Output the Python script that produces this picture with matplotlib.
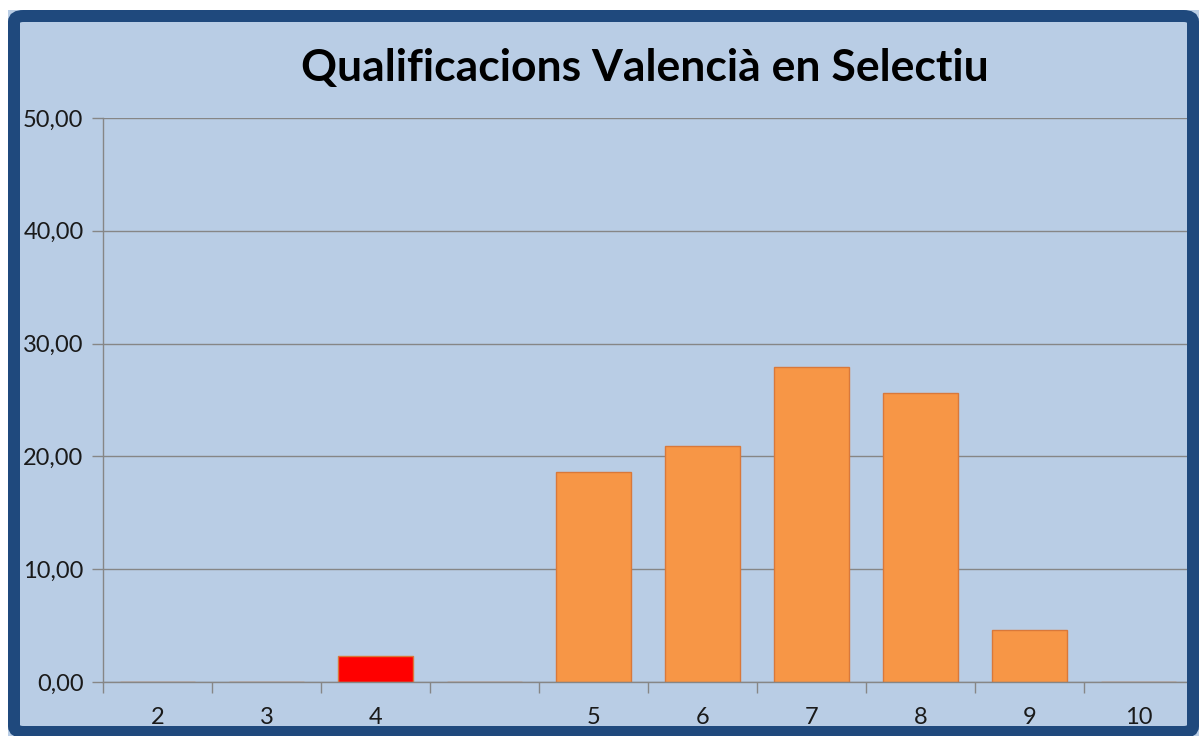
import matplotlib.pyplot as plt
import numpy as np
from matplotlib.patches import FancyBboxPatch, Rectangle

# Data
labels = ['2', '3', '4', '', '5', '6', '7', '8', '9', '10']
values = [0, 0, 2.3, 0, 18.6, 20.9, 27.9, 25.6, 4.65, 0]
bar_colors = ['#F79646', '#F79646', '#FF0000', '#F79646', '#F79646',
              '#F79646', '#F79646', '#F79646', '#F79646', '#F79646']
yticks = [0, 10, 20, 30, 40, 50]

W, H = 1199, 736
fig = plt.figure(figsize=(W / 100, H / 100), dpi=100)
fig.patch.set_facecolor('white')

# light blue chart area
inner = Rectangle((8 / W, 0), 1, 1 - 10 / H, transform=fig.transFigure,
                  facecolor='#B9CDE5', edgecolor='none', zorder=0)
fig.patches.append(inner)
# dark blue frame (drawn on top, hides the overflow like Excel does)
frame = FancyBboxPatch((14 / W, 1 - 732 / H), (1193 - 14) / W, (732 - 16) / H,
                       boxstyle='round,pad=0,rounding_size=0.008',
                       transform=fig.transFigure, facecolor='none',
                       edgecolor='#1F497D', linewidth=12 * 72 / 100, zorder=10)

ax = fig.add_axes([103 / W, 54 / H, (1193 - 103) / W, (682 - 118) / H])
ax.set_zorder(2)
ax.set_facecolor('none')

x = np.arange(len(labels))
ax.bar(x, values, width=0.68, color=bar_colors, edgecolor='#D9783A',
       linewidth=1, zorder=3)

ax.set_xlim(-0.5, len(labels) - 0.5)
ax.set_ylim(0, 50)
ax.set_yticks(yticks)
ax.set_yticklabels([f'{v:.2f}'.replace('.', ',') for v in yticks],
                   fontsize=17, family='Lato', color='#1a1a1a')
ax.set_xticks(x)
ax.set_xticklabels(labels, fontsize=17, family='Lato', color='#1a1a1a')
ax.set_xticks(np.arange(-0.5, len(labels), 1), minor=True)
ax.tick_params(axis='x', which='major', length=0, pad=18)
ax.tick_params(axis='x', which='minor', length=8, color='#868686', width=1)
ax.tick_params(axis='y', length=8, color='#868686', width=1, pad=6)

ax.grid(axis='y', color='#868686', linewidth=1, zorder=0)
for s in ['top', 'right']:
    ax.spines[s].set_visible(False)
for s in ['left', 'bottom']:
    ax.spines[s].set_color('#868686')
    ax.spines[s].set_linewidth(1)
ax.spines['bottom'].set_zorder(4)

fig.text(645 / W, 1 - 68 / H, 'Qualificacions Valencià en Selectiu',
         ha='center', va='center', fontsize=32, fontweight='bold',
         family='Lato', color='black', zorder=6)

fig.patches.append(frame)

plt.savefig('out.png', dpi=100)
